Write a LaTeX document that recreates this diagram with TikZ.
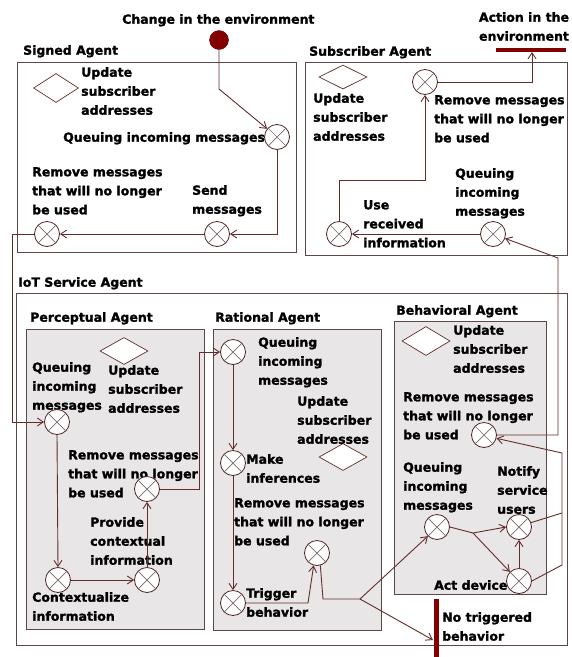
\documentclass[tikz,border=0pt]{standalone}
\usepackage{fontspec}
\setmainfont{DejaVu Sans}[BoldFeatures={FakeBold=1.6}]
\usetikzlibrary{arrows.meta,shapes.geometric,calc}
\definecolor{ln}{RGB}{100,45,45}
\definecolor{bx}{RGB}{90,72,72}
\definecolor{gfill}{RGB}{232,230,230}
\definecolor{dred}{RGB}{130,0,0}
\definecolor{xg}{RGB}{120,105,105}
\newcommand{\xcnode}[2]{\node[xcirc] (#1) at (#2) {};\draw[xline] (#1.45) -- (#1.225) (#1.135) -- (#1.-45);}
\begin{document}
\begin{tikzpicture}[x=1pt,y=-1pt,
  >={Straight Barb[length=6pt,width=8pt]},
  lbl/.style={anchor=north west, inner sep=0pt, align=left, font=\bfseries\fontsize{12.5}{19}\selectfont},
  agent/.style={draw=bx, line width=0.9pt},
  innerbox/.style={agent, fill=gfill},
  xcirc/.style={circle, draw=ln!80!black, fill=white, minimum size=25pt, inner sep=0pt, line width=0.8pt},
  xline/.style={draw=xg, line width=0.7pt},
  dia/.style={diamond, draw=ln, fill=white, minimum width=48pt, minimum height=27pt, inner sep=0pt, line width=0.7pt},
  conn/.style={draw=ln, line width=0.9pt, ->},
  plainln/.style={draw=ln, line width=0.9pt}]
\useasboundingbox[fill=white] (0,0) rectangle (572,657);

% ---------- boxes ----------
\draw[agent] (17,62) rectangle (296,252);
\draw[agent] (305,62) rectangle (567,255);
\draw[agent] (16,293) rectangle (567,645);
\draw[innerbox] (26,329) rectangle (204,629);
\draw[innerbox] (213,329) rectangle (381,630);
\draw[innerbox] (394,321) rectangle (546,594);

% ---------- titles ----------
\node[lbl] (tChange) at (122,14) {Change in the environment};
\node[lbl, align=center, anchor=north] (tAction) at (524,12) {Action in the\\environment};
\node[lbl] (tSigned) at (23,45) {Signed Agent};
\node[lbl] (tSub) at (309,46) {Subscriber Agent};
\node[lbl] (tIoT) at (18,277) {IoT Service Agent};
\node[lbl] (tPA) at (30,312) {Perceptual Agent};
\node[lbl] (tRA) at (215,312) {Rational Agent};
\node[lbl] (tBA) at (396,305) {Behavioral Agent};

% ---------- environment markers ----------
\node[circle, fill=dred, draw=dred!70!black, minimum size=19pt, inner sep=0pt] (env) at (219,40) {};
\coordinate (actbarL) at (496,50);
\coordinate (actbarR) at (566,50);
\draw[dred, line width=4.5pt] (actbarL) -- (actbarR);
\coordinate (nobarT) at (436,599);
\coordinate (nobarB) at (436,657);
\draw[dred, line width=5pt] (nobarT) -- (nobarB);
\node[lbl] (tNo) at (442,612) {No triggered\\behavior};

% ---------- Signed Agent ----------
\node[dia, minimum width=45pt, minimum height=29pt] (dSA) at (56,88) {};
\node[lbl] (tSAupd) at (81,67) {Update\\subscriber\\addresses};
\node[lbl] (tSAq) at (63,132) {Queuing incoming messages};
\node[lbl] (tSArm) at (32,167) {Remove messages\\that will no longer\\be used};
\node[lbl] (tSAsend) at (192,185) {Send\\messages};
\xcnode{qSA}{277,137}
\xcnode{sendSA}{217,234}
\xcnode{rmSA}{47,234}

% ---------- Subscriber Agent ----------
\node[dia, minimum height=24pt] (dSub) at (343,77) {};
\node[lbl] (tSubupd) at (313,93) {Update\\subscriber\\addresses};
\node[lbl] (tSubrm) at (434,95) {Remove messages\\that will no longer\\be used};
\node[lbl] (tSubuse) at (363,200) {Use\\received\\information};
\node[lbl] (tSubq) at (455,168) {Queuing\\incoming\\messages};
\xcnode{rmSub}{425,82}
\xcnode{useSub}{339,234}
\xcnode{qSub}{493,234}

% ---------- Perceptual Agent ----------
\node[dia] (dPA) at (124,351) {};
\node[lbl] (tPAq) at (32,362) {Queuing\\incoming\\messages};
\node[lbl] (tPAupd) at (108,365) {Update\\subscriber\\addresses};
\node[lbl] (tPArm) at (68,450) {Remove messages\\that will no longer\\be used};
\node[lbl] (tPAprov) at (90,517) {Provide\\contextual\\information};
\node[lbl] (tPActx) at (32,592) {Contextualize\\information};
\xcnode{qPA}{57,422}
\xcnode{rmPA}{147,489}
\xcnode{provPA}{147,580}
\xcnode{ctxPA}{58,580}

% ---------- Rational Agent ----------
\node[dia] (dRA) at (343,457) {};
\node[lbl] (tRAq) at (258,337) {Queuing\\incoming\\messages};
\node[lbl] (tRAupd) at (297,396) {Update\\subscriber\\addresses};
\node[lbl] (tRAmk) at (246,454) {Make\\inferences};
\node[lbl] (tRArm) at (234,498) {Remove messages\\that will no longer\\be used};
\node[lbl] (tRAtr) at (246,588) {Trigger\\behavior};
\xcnode{qRA}{233,352}
\xcnode{mkRA}{233,463}
\xcnode{rmRA}{317,553}
\xcnode{trRA}{233,603}

% ---------- Behavioral Agent ----------
\node[dia, minimum height=29pt] (dBA) at (426,341) {};
\node[lbl] (tBAupd) at (453,325) {Update\\subscriber\\addresses};
\node[lbl] (tBArm) at (403,392) {Remove messages\\that will no longer\\be used};
\node[lbl] (tBAq) at (403,462) {Queuing\\incoming\\messages};
\node[lbl] (tBAnf) at (497,466) {Notify\\service\\users};
\node[lbl] (tBAact) at (434,580) {Act device};
\xcnode{rmBA}{484,435}
\xcnode{qBA}{437,527}
\xcnode{nfBA}{519,527}
\xcnode{actBA}{519,581}

% ---------- connectors ----------
% Signed Agent
\draw[conn] (env.south) -- (219,89) -- (qSA);
\draw[conn] (qSA.south) |- (sendSA.east);
\draw[conn] (sendSA.west) -- (rmSA.east);
\draw[conn] (rmSA.west) -- (12,234) -- (12,422) -- (qPA.west);
% Subscriber Agent
\coordinate (actIn) at (532,52);
\draw[conn] (rmSub.east) -| (actIn);
\draw[conn] (qSub.west) -- (useSub.east);
\draw[conn] (useSub.north) -- (339,180) -- (425,180) -- (rmSub.south);
% Perceptual Agent
\draw[conn] (qPA.south) -- (ctxPA.north);
\draw[conn] (ctxPA.east) -- (provPA.west);
\draw[conn] (provPA.north) -- (rmPA.south);
\draw[conn] (rmPA.east) -- (199,489) -- (199,352) -- (qRA.west);
% Rational Agent
\draw[conn] (qRA.south) -- (mkRA.north);
\draw[conn] (mkRA.south) -- (trRA.north);
\draw[conn] (trRA.east) -- (308,603) -- (rmRA.-105);
\coordinate (fork) at (360,599);
\draw[plainln] (rmRA.-75) -- (323,599) -- (fork);
\draw[conn] (fork) -- (qBA.-135);
\coordinate (noIn) at (433,640);
\draw[conn] (fork) -- (noIn);
% Behavioral Agent
\coordinate (split) at (473,533);
\draw[plainln] (qBA.east) -- (split);
\draw[conn] (split) -- (nfBA.west);
\draw[conn] (split) -- (actBA.135);
\draw[conn] (actBA.north) -- (nfBA.south);
\draw[plainln] (nfBA.20) -- (562,513);
\draw[conn] (actBA.east) -- (562,565) -- (562,453) -- (rmBA.-15);
\draw[conn] (rmBA.east) -- (558,435) -- (558,258) -- (qSub.-20);
\end{tikzpicture}
\end{document}
